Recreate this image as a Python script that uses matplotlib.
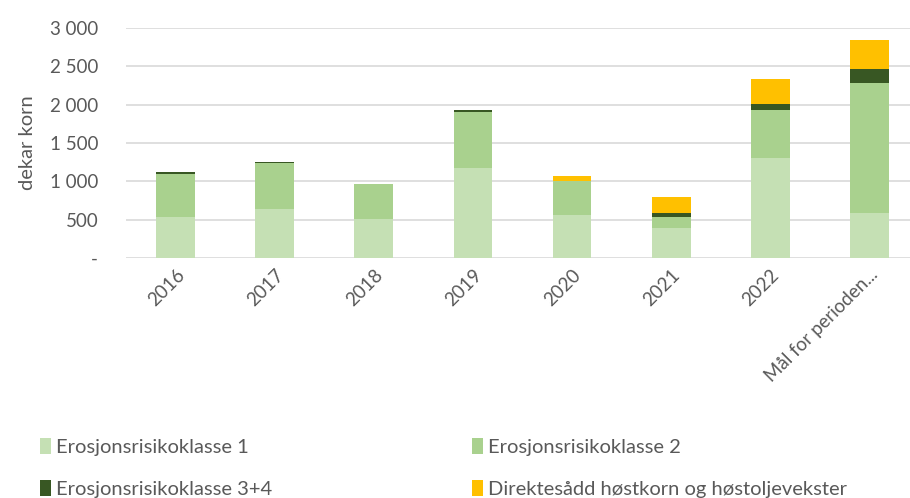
import matplotlib
matplotlib.use("Agg")
import matplotlib.pyplot as plt
import numpy as np
from matplotlib.ticker import FuncFormatter

# data
categories = ['2016', '2017', '2018', '2019', '2020', '2021', '2022', 'Mål for perioden...']
klasse1 = [535, 643, 513, 1170, 565, 386, 1300, 590]
klasse2 = [560, 592, 457, 730, 435, 153, 632, 1695]
klasse34 = [25, 18, 0, 32, 0, 52, 78, 180]
direktesadd = [0, 0, 0, 0, 70, 205, 326, 380]

series_names = ['Erosjonsrisikoklasse 1', 'Erosjonsrisikoklasse 2',
                'Erosjonsrisikoklasse 3+4', 'Direktesådd høstkorn og høstoljevekster']
colors = ['#C5E0B4', '#A9D18E', '#385723', '#FFC000']

plt.rcParams['font.family'] = ['Lato', 'DejaVu Sans']
text_color = '#595959'

fig = plt.figure(figsize=(9.1, 4.98), dpi=100)
ax = fig.add_axes([126 / 910, 1 - 258 / 498, 793 / 910, 230 / 498])

x = np.arange(len(categories))
bottom = np.zeros(len(categories))
handles = []
for vals, name, col in zip([klasse1, klasse2, klasse34, direktesadd], series_names, colors):
    b = ax.bar(x, vals, width=0.39, bottom=bottom, color=col, label=name, zorder=2)
    handles.append(b)
    bottom += np.array(vals)

ax.set_ylim(0, 3000)
ax.set_xlim(-0.5, 7.5)
ax.set_yticks(range(0, 3001, 500))


def fmt(v, pos):
    if v == 0:
        return '-'
    return f'{int(v):,}'.replace(',', ' ')


ax.yaxis.set_major_formatter(FuncFormatter(fmt))
ax.grid(axis='y', color='#D9D9D9', linewidth=1.2, zorder=0)
for s in ['top', 'right', 'left', 'bottom']:
    ax.spines[s].set_visible(False)
ax.tick_params(axis='both', length=0, colors=text_color, labelsize=13.5)
ax.tick_params(axis='y', pad=20)
ax.tick_params(axis='x', pad=6)
ax.set_xticks(x)
ax.set_xticklabels(categories, rotation=45, ha='right', rotation_mode='anchor')
ax.set_ylabel('dekar korn', color=text_color, fontsize=14.5, labelpad=10)

# legend fills column-wise, so order handles to get rows like the reference
order = [0, 2, 1, 3]
fig.legend(handles=[handles[i] for i in order], labels=[series_names[i] for i in order],
           loc='lower left', bbox_to_anchor=(22 / 910, -0.036), ncol=2, frameon=False,
           fontsize=14.5, labelcolor=text_color, handlelength=0.55, handleheight=0.8,
           handletextpad=0.25, columnspacing=9.9, labelspacing=1.2)

fig.savefig('out.png', dpi=100)
